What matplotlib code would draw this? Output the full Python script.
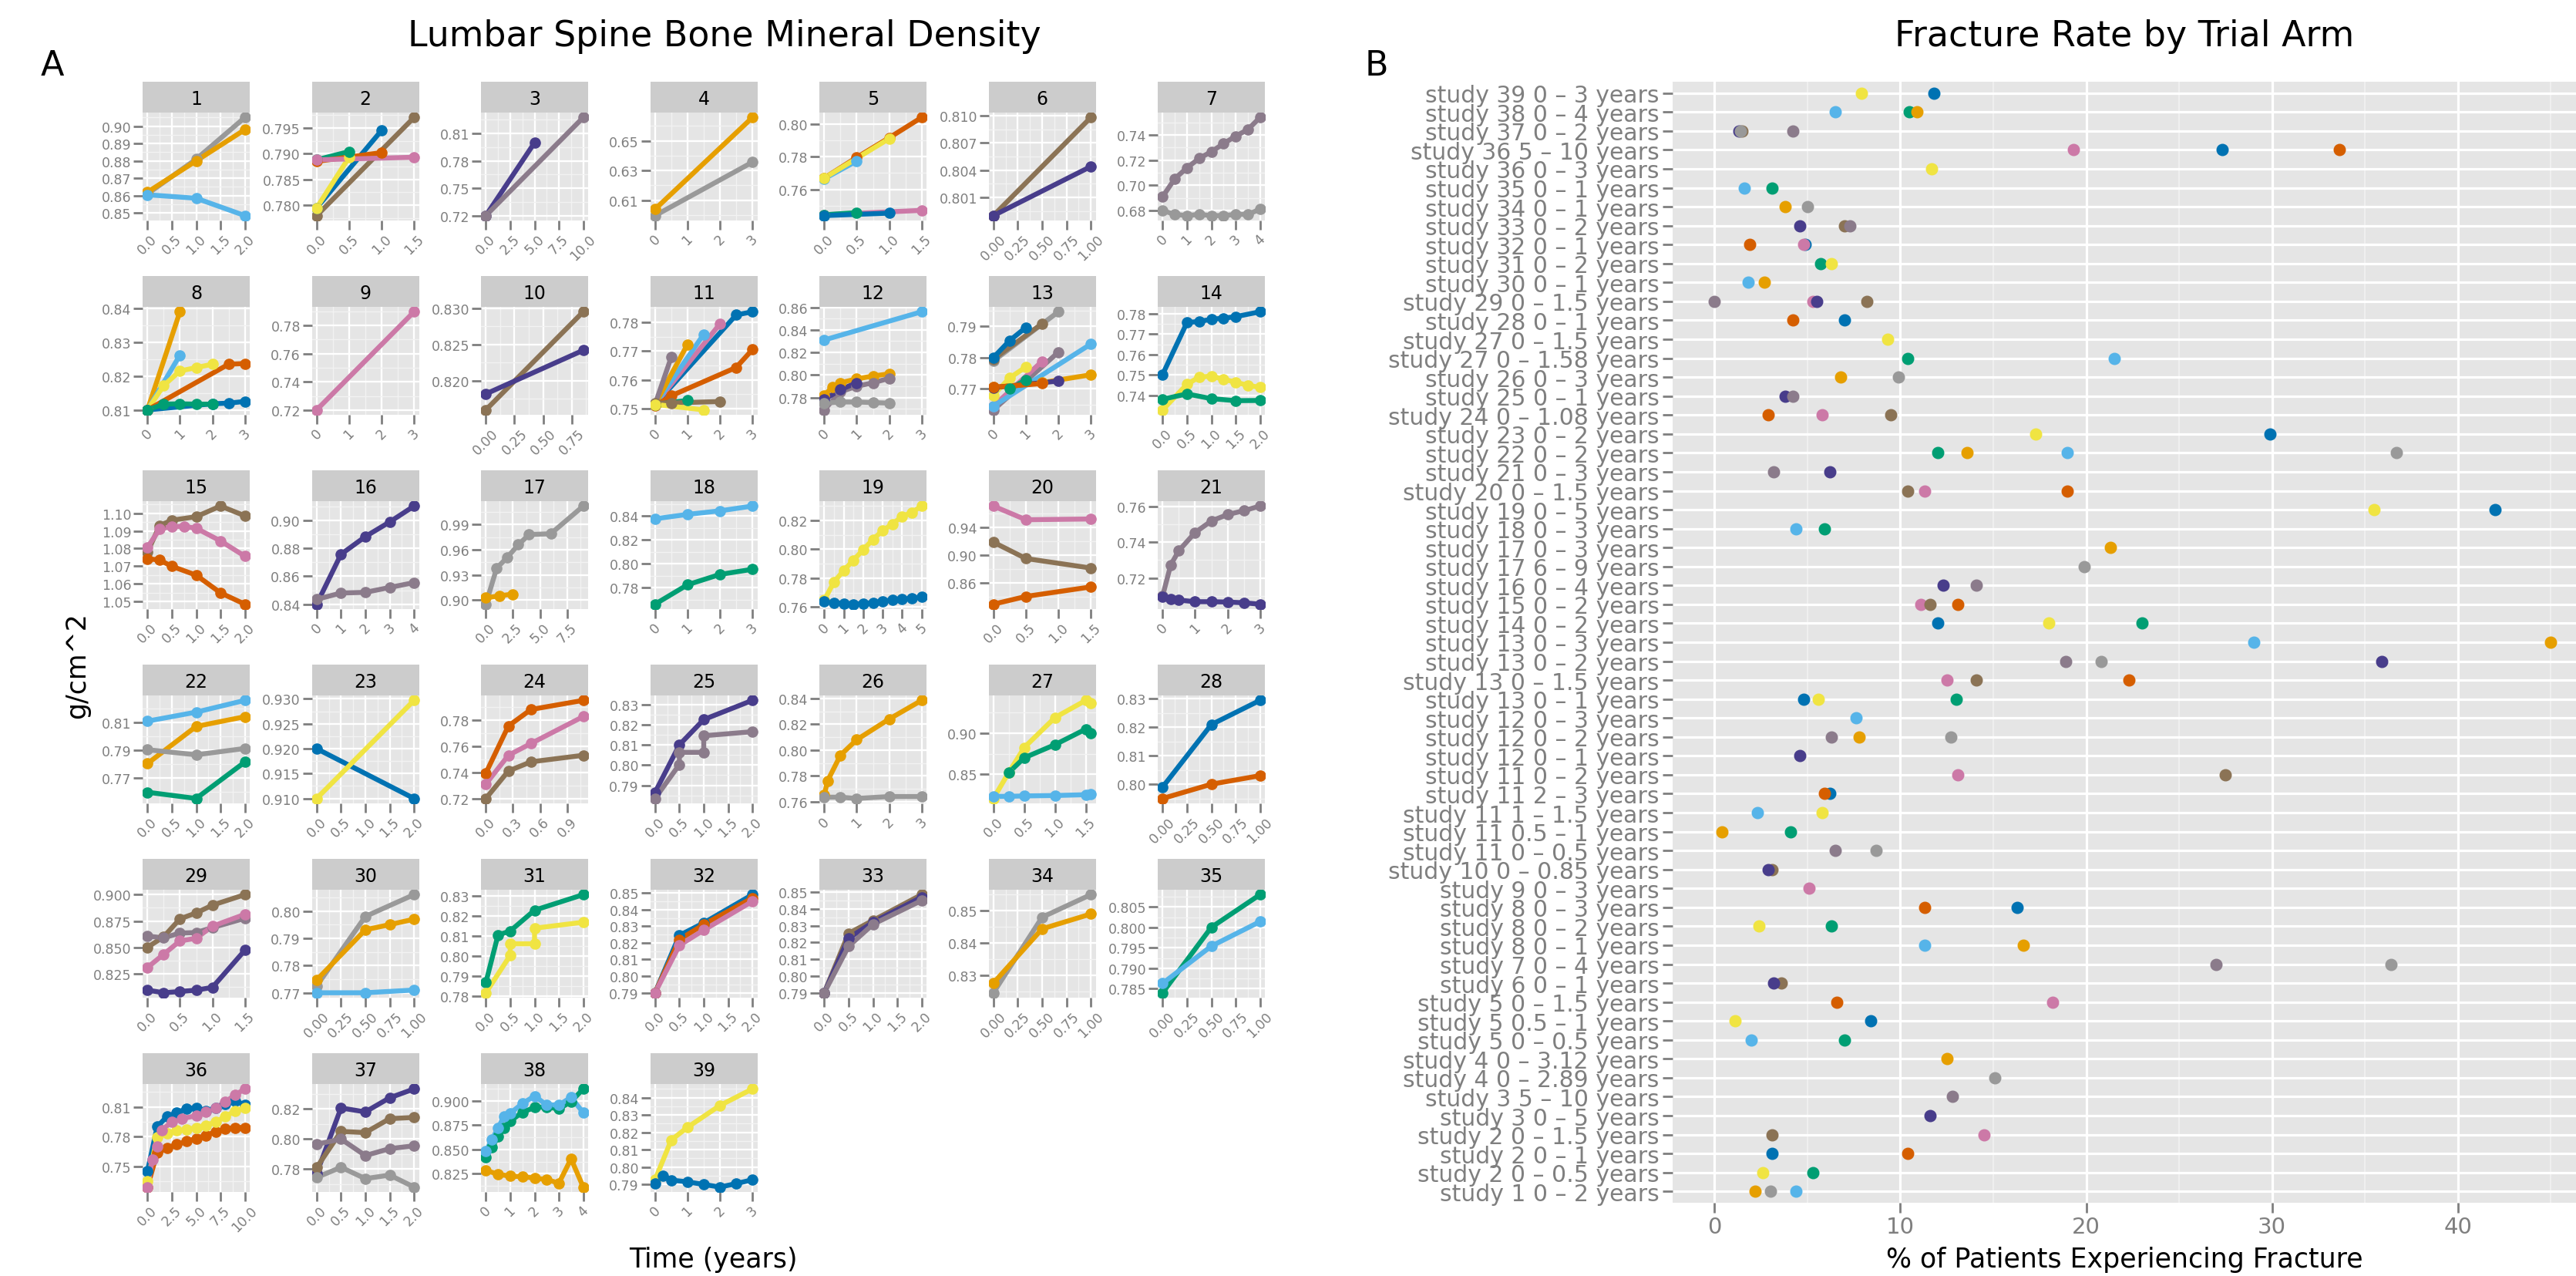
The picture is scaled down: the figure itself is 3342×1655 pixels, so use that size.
import numpy as np
import matplotlib.pyplot as plt

plt.rcParams['font.family'] = 'DejaVu Sans'

W, H = 3342, 1656

pal = {'orange': '#E69F00', 'sky': '#56B4E9', 'green': '#009E73', 'yellow': '#F0E442',
       'blue': '#0072B2', 'verm': '#D55E00', 'pink': '#CC79A7', 'grey': '#999999',
       'brown': '#8B7355', 'purple': '#483D8B', 'mauve': '#8B7B8B'}

# ---- panel A: BMD over time, one list per study: (arm colour, years, g/cm^2)
s01 = [('grey', [0, 1, 2], [0.861, 0.881, 0.905]),
       ('orange', [0, 1, 2], [0.862, 0.880, 0.898]),
       ('sky', [0, 1, 2], [0.8605, 0.8585, 0.8485])]
s02 = [('brown', [0, 1.5], [0.778, 0.797]),
       ('blue', [0, 1], [0.7795, 0.7945]),
       ('yellow', [0, 0.5], [0.7795, 0.7893]),
       ('green', [0, 0.5], [0.7888, 0.7904]),
       ('verm', [0, 1], [0.7885, 0.7902]),
       ('pink', [0, 1.5], [0.7888, 0.7893])]
s03 = [('purple', [0, 5], [0.720, 0.7998]),
       ('mauve', [0, 10], [0.720, 0.8274])]
s04 = [('grey', [0, 3], [0.5996, 0.6356]),
       ('orange', [0, 3], [0.6039, 0.6657])]
s05 = [('verm', [0, 0.5, 1, 1.5], [0.7669, 0.7795, 0.7915, 0.8039]),
       ('sky', [0, 0.5], [0.7665, 0.7773]),
       ('yellow', [0, 1], [0.7669, 0.791]),
       ('pink', [0, 1.5], [0.7445, 0.7472]),
       ('green', [0, 0.5], [0.7445, 0.7458]),
       ('blue', [0, 1], [0.744, 0.7455])]
s06 = [('brown', [0, 1], [0.799, 0.8098]),
       ('purple', [0, 1], [0.799, 0.8044])]
s07 = [('mauve', [0, 0.5, 1, 1.5, 2, 2.5, 3, 3.5, 4],
        [0.691, 0.7053, 0.7139, 0.7214, 0.7267, 0.7331, 0.7391, 0.7443, 0.7539]),
       ('grey', [0, 0.5, 1, 1.5, 2, 2.5, 3, 3.5, 4],
        [0.680, 0.677, 0.676, 0.677, 0.676, 0.676, 0.677, 0.677, 0.681])]
s08 = [('orange', [0, 1], [0.810, 0.839]),
       ('sky', [0, 1], [0.810, 0.8262]),
       ('yellow', [0, 0.5, 1, 1.5, 2], [0.810, 0.8172, 0.8215, 0.8225, 0.8235]),
       ('verm', [0, 2.5, 3], [0.810, 0.8235, 0.8237]),
       ('blue', [0, 2, 2.5, 3], [0.810, 0.8118, 0.812, 0.8125]),
       ('green', [0, 0.5, 1, 1.5, 2], [0.810, 0.8117, 0.8118, 0.8117, 0.8117])]
s09 = [('pink', [0, 3], [0.7201, 0.7896])]
s10 = [('brown', [0, 0.85], [0.816, 0.8295]),
       ('purple', [0, 0.85], [0.8182, 0.8242])]
s11 = [('blue', [0, 2.5, 3], [0.7515, 0.7825, 0.7836]),
       ('pink', [0, 2], [0.7515, 0.7794]),
       ('sky', [0, 1.5], [0.7515, 0.7758]),
       ('orange', [0, 1], [0.7515, 0.7723]),
       ('mauve', [0, 0.5], [0.7515, 0.7679]),
       ('verm', [0, 0.5, 2.5, 3], [0.751, 0.7545, 0.7643, 0.7705]),
       ('green', [0, 1], [0.7515, 0.7529]),
       ('brown', [0, 0.5, 2], [0.752, 0.752, 0.7525]),
       ('yellow', [0, 1.5], [0.7515, 0.7496])]
s12 = [('sky', [0, 3], [0.831, 0.856]),
       ('orange', [0, 0.25, 0.5, 1, 1.5, 2], [0.782, 0.789, 0.793, 0.7965, 0.799, 0.801]),
       ('mauve', [0, 0.5, 1, 1.5, 2], [0.769, 0.785, 0.790, 0.793, 0.797]),
       ('purple', [0, 0.5, 1], [0.778, 0.787, 0.793]),
       ('grey', [0, 0.5, 1, 1.5, 2], [0.775, 0.776, 0.776, 0.7755, 0.775])]
s13 = [('grey', [0, 2], [0.7789, 0.7946]),
       ('brown', [0, 1.5], [0.7795, 0.7908]),
       ('blue', [0, 0.5, 1], [0.780, 0.7854, 0.7896]),
       ('mauve', [0, 2], [0.7633, 0.7817]),
       ('pink', [0, 1.5], [0.7645, 0.7788]),
       ('sky', [0, 3], [0.7645, 0.7843]),
       ('yellow', [0, 0.5, 1], [0.768, 0.7735, 0.777]),
       ('green', [0.5, 1], [0.770, 0.7729]),
       ('orange', [0, 1.5, 3], [0.7705, 0.772, 0.7745]),
       ('purple', [0, 2], [0.7704, 0.7725]),
       ('verm', [0, 1.5], [0.7705, 0.7717])]
s14 = [('blue', [0, 0.5, 0.75, 1, 1.25, 1.5, 2],
        [0.7503, 0.7756, 0.7762, 0.7772, 0.7778, 0.7785, 0.7809]),
       ('yellow', [0, 0.5, 0.75, 1, 1.25, 1.5, 1.75, 2],
        [0.733, 0.7455, 0.749, 0.7495, 0.748, 0.7465, 0.745, 0.744]),
       ('green', [0, 0.5, 1, 1.5, 2], [0.7382, 0.7408, 0.7385, 0.7375, 0.7376])]
s15 = [('brown', [0, 0.25, 0.5, 1, 1.5, 2], [1.078, 1.093, 1.096, 1.098, 1.104, 1.0985]),
       ('pink', [0, 0.25, 0.5, 0.75, 1, 1.5, 2],
        [1.0807, 1.091, 1.0925, 1.0925, 1.0915, 1.0843, 1.0757]),
       ('verm', [0, 0.25, 0.5, 1, 1.5, 2], [1.0743, 1.0735, 1.070, 1.065, 1.055, 1.0486])]
s16 = [('purple', [0, 1, 2, 3, 4], [0.840, 0.8758, 0.8885, 0.899, 0.9104]),
       ('mauve', [0, 1, 2, 3, 4], [0.8435, 0.848, 0.8485, 0.852, 0.8555])]
s17 = [('grey', [0, 1, 2, 3, 4, 6, 9], [0.895, 0.938, 0.951, 0.966, 0.978, 0.979, 1.012]),
       ('orange', [0, 1.25, 2.5], [0.9025, 0.905, 0.907])]
s18 = [('sky', [0, 1, 2, 3], [0.8378, 0.8415, 0.8445, 0.8485]),
       ('green', [0, 1, 2, 3], [0.7661, 0.7824, 0.7911, 0.7954])]
s19 = [('yellow', [0, 0.5, 1, 1.5, 2, 2.5, 3, 3.5, 4, 4.5, 5],
        [0.7648, 0.7773, 0.7853, 0.7924, 0.7996, 0.8067, 0.8129, 0.8174, 0.8227, 0.8254, 0.8298]),
       ('blue', [0, 0.5, 1, 1.5, 2, 2.5, 3, 3.5, 4, 4.5, 5],
        [0.764, 0.763, 0.7625, 0.762, 0.7625, 0.763, 0.764, 0.765, 0.7655, 0.766, 0.767])]
s20 = [('pink', [0, 0.5, 1.5], [0.971, 0.9512, 0.9523]),
       ('brown', [0, 0.5, 1.5], [0.9187, 0.8951, 0.8813]),
       ('verm', [0, 0.5, 1.5], [0.829, 0.8402, 0.854])]
s21 = [('mauve', [0, 0.25, 0.5, 1, 1.5, 2, 2.5, 3],
        [0.7098, 0.7273, 0.7353, 0.7455, 0.752, 0.7556, 0.7578, 0.7604]),
       ('purple', [0, 0.25, 0.5, 1, 1.5, 2, 2.5, 3],
        [0.7095, 0.7082, 0.7075, 0.7066, 0.7066, 0.7064, 0.706, 0.7052])]
s22 = [('sky', [0, 1, 2], [0.811, 0.8175, 0.826]),
       ('orange', [0, 1, 2], [0.7804, 0.8072, 0.8142]),
       ('grey', [0, 1, 2], [0.7904, 0.7867, 0.7913]),
       ('green', [0, 1, 2], [0.7597, 0.7552, 0.7815])]
s23 = [('blue', [0, 2], [0.920, 0.910]),
       ('yellow', [0, 2], [0.910, 0.9297])]
s24 = [('verm', [0, 0.25, 0.5, 1.08], [0.7394, 0.7754, 0.788, 0.795]),
       ('pink', [0, 0.25, 0.5, 1.08], [0.731, 0.753, 0.762, 0.7826]),
       ('brown', [0, 0.25, 0.5, 1.08], [0.720, 0.741, 0.748, 0.753])]
s25 = [('purple', [0, 0.5, 1, 2], [0.7865, 0.810, 0.8225, 0.832]),
       ('mauve', [0, 0.5, 0.5, 1, 1, 2], [0.7835, 0.8003, 0.8063, 0.8063, 0.8145, 0.8165])]
s26 = [('orange', [0, 0.1, 0.5, 1, 2, 3], [0.765, 0.776, 0.796, 0.808, 0.824, 0.8385]),
       ('grey', [0, 0.5, 1, 2, 3], [0.7635, 0.7635, 0.7625, 0.764, 0.764])]
s27 = [('yellow', [0, 0.25, 0.5, 1, 1.5, 1.58], [0.8204, 0.8522, 0.8825, 0.9191, 0.940, 0.937]),
       ('green', [0.25, 0.5, 1, 1.5, 1.58], [0.852, 0.870, 0.886, 0.905, 0.900]),
       ('sky', [0, 0.25, 0.5, 1, 1.5, 1.58], [0.8229, 0.823, 0.8235, 0.824, 0.825, 0.826])]
s28 = [('blue', [0, 0.5, 1], [0.799, 0.8209, 0.8294]),
       ('verm', [0, 0.5, 1], [0.795, 0.800, 0.803])]
s29 = [('brown', [0, 0.25, 0.5, 0.75, 1, 1.5], [0.850, 0.860, 0.877, 0.8826, 0.890, 0.900]),
       ('mauve', [0, 0.25, 0.5, 0.75, 1, 1.5], [0.8606, 0.859, 0.8635, 0.864, 0.8687, 0.8775]),
       ('pink', [0, 0.25, 0.5, 0.75, 1, 1.5], [0.8308, 0.8434, 0.856, 0.8586, 0.870, 0.8813]),
       ('purple', [0, 0.25, 0.5, 0.75, 1, 1.5], [0.8093, 0.8068, 0.808, 0.8093, 0.8119, 0.8472])]
s30 = [('grey', [0, 0.5, 1], [0.7725, 0.798, 0.806]),
       ('orange', [0, 0.5, 0.75, 1], [0.7747, 0.7931, 0.795, 0.797]),
       ('sky', [0, 0.5, 1], [0.770, 0.770, 0.771])]
s31 = [('green', [0, 0.25, 0.5, 1, 2], [0.7868, 0.8106, 0.8126, 0.823, 0.8308]),
       ('yellow', [0, 0.5, 0.5, 1, 1, 2], [0.7817, 0.8004, 0.8062, 0.8062, 0.814, 0.817])]
s32 = [('blue', [0, 0.5, 1, 2], [0.790, 0.8245, 0.832, 0.849]),
       ('verm', [0, 0.5, 1, 2], [0.790, 0.822, 0.831, 0.847]),
       ('pink', [0, 0.5, 1, 2], [0.790, 0.8185, 0.8277, 0.845])]
s33 = [('brown', [0, 0.5, 1, 2], [0.790, 0.8254, 0.8331, 0.8485]),
       ('purple', [0, 0.5, 1, 2], [0.790, 0.8225, 0.832, 0.847]),
       ('mauve', [0, 0.5, 1, 2], [0.790, 0.8177, 0.8308, 0.845])]
s34 = [('grey', [0, 0.5, 1], [0.8246, 0.848, 0.855]),
       ('orange', [0, 0.5, 1], [0.8276, 0.8444, 0.849])]
s35 = [('green', [0, 0.5, 1], [0.784, 0.800, 0.808]),
       ('sky', [0, 0.5, 1], [0.7863, 0.7954, 0.8014])]
s36 = [('verm', [0, 1, 2, 3, 4, 5, 6, 7, 8, 9, 10],
        [0.729, 0.7635, 0.768, 0.772, 0.775, 0.778, 0.781, 0.785, 0.7875, 0.789, 0.789]),
       ('blue', [0, 1, 2, 3, 4, 5, 6, 7, 8, 9, 10],
        [0.745, 0.790, 0.800, 0.804, 0.808, 0.809, 0.806, 0.809, 0.813, 0.816, 0.812]),
       ('yellow', [0, 1, 2, 3, 4, 5, 6, 7, 8, 9, 10],
        [0.735, 0.779, 0.7835, 0.786, 0.787, 0.789, 0.791, 0.795, 0.800, 0.806, 0.809]),
       ('pink', [0, 0.5, 1, 1.5, 2.5, 3.5, 5, 6, 7, 8, 9, 10],
        [0.729, 0.757, 0.770, 0.7865, 0.795, 0.798, 0.801, 0.805, 0.809, 0.815, 0.822, 0.828])]
s37 = [('purple', [0, 0.5, 1, 1.5, 2], [0.777, 0.8207, 0.8181, 0.8275, 0.8334]),
       ('brown', [0, 0.5, 1, 1.5, 2], [0.781, 0.8051, 0.8043, 0.8136, 0.8144]),
       ('mauve', [0, 0.5, 1, 1.5, 2], [0.7965, 0.800, 0.789, 0.7936, 0.7955]),
       ('grey', [0, 0.5, 1, 1.5, 2], [0.7744, 0.7812, 0.7736, 0.776, 0.768])]
s38 = [('green', [0, 0.25, 0.5, 0.75, 1, 1.5, 2, 2.5, 3, 3.5, 4],
        [0.842, 0.852, 0.863, 0.872, 0.879, 0.888, 0.893, 0.8935, 0.8915, 0.899, 0.912]),
       ('sky', [0, 0.25, 0.5, 0.75, 1, 1.5, 2, 2.5, 3, 3.5, 4],
        [0.848, 0.860, 0.872, 0.884, 0.887, 0.897, 0.9047, 0.8955, 0.8955, 0.9034, 0.8876]),
       ('orange', [0, 0.5, 1, 1.5, 2, 2.5, 3, 3.5, 4],
        [0.8284, 0.8245, 0.8225, 0.822, 0.8205, 0.819, 0.8153, 0.8403, 0.8113])]
s39 = [('yellow', [0, 0.5, 1, 2, 3], [0.7927, 0.8156, 0.8229, 0.8355, 0.845]),
       ('blue', [0, 0.25, 0.5, 1, 1.5, 2, 2.5, 3],
        [0.7904, 0.795, 0.7925, 0.7915, 0.790, 0.7885, 0.7905, 0.7927])]

studies = [s01, s02, s03, s04, s05, s06, s07, s08, s09, s10, s11, s12, s13,
           s14, s15, s16, s17, s18, s19, s20, s21, s22, s23, s24, s25, s26,
           s27, s28, s29, s30, s31, s32, s33, s34, s35, s36, s37, s38, s39]

y_break_fix = {35: [0.785, 0.790, 0.795, 0.800, 0.805], 36: [0.75, 0.78, 0.81]}
x_break_fix = {10: [0, 0.25, 0.5, 0.75]}

# ---- panel B: fracture rate (%) per arm, top row first
fx_labels = ['study 39 0 – 3 years', 'study 38 0 – 4 years', 'study 37 0 – 2 years',
             'study 36 5 – 10 years', 'study 36 0 – 3 years', 'study 35 0 – 1 years',
             'study 34 0 – 1 years', 'study 33 0 – 2 years', 'study 32 0 – 1 years',
             'study 31 0 – 2 years', 'study 30 0 – 1 years', 'study 29 0 – 1.5 years',
             'study 28 0 – 1 years', 'study 27 0 – 1.5 years', 'study 27 0 – 1.58 years',
             'study 26 0 – 3 years', 'study 25 0 – 1 years', 'study 24 0 – 1.08 years',
             'study 23 0 – 2 years', 'study 22 0 – 2 years', 'study 21 0 – 3 years',
             'study 20 0 – 1.5 years', 'study 19 0 – 5 years', 'study 18 0 – 3 years',
             'study 17 0 – 3 years', 'study 17 6 – 9 years', 'study 16 0 – 4 years',
             'study 15 0 – 2 years', 'study 14 0 – 2 years', 'study 13 0 – 3 years',
             'study 13 0 – 2 years', 'study 13 0 – 1.5 years', 'study 13 0 – 1 years',
             'study 12 0 – 3 years', 'study 12 0 – 2 years', 'study 12 0 – 1 years',
             'study 11 0 – 2 years', 'study 11 2 – 3 years', 'study 11 1 – 1.5 years',
             'study 11 0.5 – 1 years', 'study 11 0 – 0.5 years', 'study 10 0 – 0.85 years',
             'study 9 0 – 3 years', 'study 8 0 – 3 years', 'study 8 0 – 2 years',
             'study 8 0 – 1 years', 'study 7 0 – 4 years', 'study 6 0 – 1 years',
             'study 5 0 – 1.5 years', 'study 5 0.5 – 1 years', 'study 5 0 – 0.5 years',
             'study 4 0 – 3.12 years', 'study 4 0 – 2.89 years', 'study 3 5 – 10 years',
             'study 3 0 – 5 years', 'study 2 0 – 1.5 years', 'study 2 0 – 1 years',
             'study 2 0 – 0.5 years', 'study 1 0 – 2 years']
fx_arms = [[('yellow', 7.9), ('blue', 11.8)],
           [('sky', 6.5), ('green', 10.5), ('orange', 10.9)],
           [('purple', 1.3), ('brown', 1.5), ('grey', 1.4), ('mauve', 4.2)],
           [('pink', 19.3), ('blue', 27.3), ('verm', 33.6)],
           [('yellow', 11.7)],
           [('sky', 1.6), ('green', 3.1)],
           [('orange', 3.8), ('grey', 5.0)],
           [('purple', 4.6), ('brown', 7.0), ('mauve', 7.3)],
           [('verm', 1.9), ('blue', 4.9), ('pink', 4.8)],
           [('green', 5.7), ('yellow', 6.3)],
           [('sky', 1.8), ('orange', 2.7)],
           [('mauve', 0.0), ('pink', 5.3), ('purple', 5.5), ('brown', 8.2)],
           [('verm', 4.2), ('blue', 7.0)],
           [('yellow', 9.3)],
           [('green', 10.4), ('sky', 21.5)],
           [('orange', 6.8), ('grey', 9.9)],
           [('purple', 3.8), ('mauve', 4.2)],
           [('verm', 2.9), ('pink', 5.8), ('brown', 9.5)],
           [('yellow', 17.3), ('blue', 29.9)],
           [('green', 12.0), ('orange', 13.6), ('sky', 19.0), ('grey', 36.7)],
           [('mauve', 3.2), ('purple', 6.2)],
           [('brown', 10.4), ('pink', 11.3), ('verm', 19.0)],
           [('yellow', 35.5), ('blue', 42.0)],
           [('sky', 4.4), ('green', 5.9)],
           [('orange', 21.3)],
           [('grey', 19.9)],
           [('purple', 12.3), ('mauve', 14.1)],
           [('pink', 11.1), ('brown', 11.6), ('verm', 13.1)],
           [('blue', 12.0), ('yellow', 18.0), ('green', 23.0)],
           [('sky', 29.0), ('orange', 45.0)],
           [('mauve', 18.9), ('grey', 20.8), ('purple', 35.9)],
           [('pink', 12.5), ('brown', 14.1), ('verm', 22.3)],
           [('blue', 4.8), ('yellow', 5.6), ('green', 13.0)],
           [('sky', 7.6)],
           [('mauve', 6.3), ('orange', 7.8), ('grey', 12.7)],
           [('purple', 4.6)],
           [('pink', 13.1), ('brown', 27.5)],
           [('blue', 6.2), ('verm', 5.9)],
           [('sky', 2.3), ('yellow', 5.8)],
           [('orange', 0.4), ('green', 4.1)],
           [('mauve', 6.5), ('grey', 8.7)],
           [('brown', 3.1), ('purple', 2.9)],
           [('pink', 5.1)],
           [('verm', 11.3), ('blue', 16.3)],
           [('yellow', 2.4), ('green', 6.3)],
           [('sky', 11.3), ('orange', 16.6)],
           [('mauve', 27.0), ('grey', 36.4)],
           [('brown', 3.6), ('purple', 3.2)],
           [('verm', 6.6), ('pink', 18.2)],
           [('yellow', 1.1), ('blue', 8.4)],
           [('sky', 2.0), ('green', 7.0)],
           [('orange', 12.5)],
           [('grey', 15.1)],
           [('mauve', 12.8)],
           [('purple', 11.6)],
           [('brown', 3.1), ('pink', 14.5)],
           [('blue', 3.1), ('verm', 10.4)],
           [('yellow', 2.6), ('green', 5.3)],
           [('orange', 2.2), ('grey', 3.0), ('sky', 4.4)]]
fx_ticks = [0, 10, 20, 30, 40]


# ggplot style breaks (Talbot/Wilkinson "extended")
def extended(dmin, dmax, m=5, Q=(1, 5, 2, 2.5, 4, 3), w=(0.25, 0.2, 0.5, 0.05)):
    if dmax - dmin < 1e-12:
        return [dmin]
    n = len(Q)
    eps = 1e-12
    best = None
    best_score = -2
    j = 1
    while j < 50:
        stop = False
        for qi, q in enumerate(Q):
            sm = 1 - qi / (n - 1) - j + 1
            if w[0] * sm + w[1] + w[2] + w[3] < best_score:
                stop = True
                break
            k = 2
            while k < 50:
                dm = 2 - (k - 1) / (m - 1) if k >= m else 1
                if w[0] * sm + w[1] + w[2] * dm + w[3] < best_score:
                    break
                delta = (dmax - dmin) / (k + 1) / j / q
                z = int(np.ceil(np.log10(delta)))
                while z < 50:
                    step = j * q * 10.0 ** z
                    span = step * (k - 1)
                    rng = dmax - dmin
                    if span > rng:
                        half = (span - rng) / 2
                        cm = 1 - 0.5 * (2 * half ** 2) / ((0.1 * rng) ** 2)
                    else:
                        cm = 1
                    if w[0] * sm + w[1] * cm + w[2] * dm + w[3] < best_score:
                        break
                    min_start = int(np.floor(dmax / step) * j - (k - 1) * j)
                    max_start = int(np.ceil(dmin / step) * j)
                    for start in range(min_start, max_start + 1):
                        lmin = start * (step / j)
                        lmax = lmin + step * (k - 1)
                        md = lmin % step
                        v = 1 if ((md < eps or step - md < eps) and lmin <= 0 <= lmax) else 0
                        s = 1 - qi / (n - 1) - j + v
                        c = 1 - 0.5 * ((dmax - lmax) ** 2 + (dmin - lmin) ** 2) / ((0.1 * rng) ** 2)
                        r = (k - 1) / (lmax - lmin)
                        rt = (m - 1) / (max(lmax, dmax) - min(dmin, lmin))
                        g = 2 - max(r / rt, rt / r)
                        score = w[0] * s + w[1] * c + w[2] * g + w[3]
                        if score > best_score:
                            best_score = score
                            best = (lmin, lmax, step)
                    z += 1
                k += 1
        if stop:
            break
        j += 1
    lmin, lmax, step = best
    return list(np.round(np.arange(lmin, lmax + step / 2, step), 10))


def tick_text(vals):
    for d in range(0, 6):
        if all(abs(round(v, d) - v) < 1e-9 for v in vals):
            break
    return [f'{v:.{d}f}' for v in vals]


def box(x0, y0, w, h):
    return [x0 / W, 1 - (y0 + h) / H, w / W, h / H]


def setup_scale(ax, lo, hi, axis, fixed=None):
    span = hi - lo if hi > lo else 1.0
    a, b = lo - 0.05 * span, hi + 0.05 * span
    # breaks are taken on the expanded range, as old ggplot2 did
    brk = fixed if fixed is not None else extended(a, b)
    brk = [v for v in brk if a - 1e-9 <= v <= b + 1e-9]
    step = brk[1] - brk[0] if len(brk) > 1 else span
    minor = [v + step / 2 for v in [brk[0] - step] + brk]
    minor = [v for v in minor if a <= v <= b]
    if axis == 'x':
        ax.set_xlim(a, b)
        ax.set_xticks(brk)
        ax.set_xticks(minor, minor=True)
        ax.set_xticklabels(tick_text(brk), rotation=45, ha='center', va='top')
    else:
        ax.set_ylim(a, b)
        ax.set_yticks(brk)
        ax.set_yticks(minor, minor=True)
        ax.set_yticklabels(tick_text(brk))


fig = plt.figure(figsize=(W / 100, H / 100), dpi=100)

for i, series in enumerate(studies):
    r, c = divmod(i, 7)
    x0 = 185 + 219.5 * c
    y0 = 107 + 252 * r

    st = fig.add_axes(box(x0, y0, 139, 40))
    st.set_facecolor('#CCCCCC')
    st.set_xticks([])
    st.set_yticks([])
    for sp in st.spines.values():
        sp.set_visible(False)
    st.text(0.5, 0.46, str(i + 1), ha='center', va='center', fontsize=17, transform=st.transAxes)

    ax = fig.add_axes(box(x0, y0 + 40, 139, 140))
    ax.set_facecolor('#E5E5E5')
    for col, t, v in series:
        ax.plot(t, v, color=pal[col], lw=4.6, zorder=3, solid_capstyle='round')
    for col, t, v in series:
        ax.plot(t, v, 'o', color=pal[col], ms=9.5, zorder=4)
    tt = np.concatenate([np.asarray(s[1], float) for s in series])
    vv = np.concatenate([np.asarray(s[2], float) for s in series])
    setup_scale(ax, tt.min(), tt.max(), 'x', x_break_fix.get(i + 1))
    setup_scale(ax, vv.min(), vv.max(), 'y', y_break_fix.get(i + 1))
    ax.grid(which='major', color='white', lw=1.7)
    ax.grid(which='minor', color='#F2F2F2', lw=1.0)
    ax.set_axisbelow(True)
    ax.tick_params(which='major', length=8.5, width=2, color='#7F7F7F',
                   labelcolor='#7F7F7F', labelsize=12.5, pad=2)
    ax.tick_params(which='minor', length=0)
    for sp in ax.spines.values():
        sp.set_visible(False)

# panel B
axb = fig.add_axes(box(2170, 107, W - 2170, 1454))
axb.set_facecolor('#E5E5E5')
n = len(fx_labels)
for k, arms in enumerate(fx_arms):
    for col, val in arms:
        axb.plot(val, n - k, 'o', color=pal[col], ms=10.5, zorder=3)
axb.set_ylim(0.4, n + 0.6)
axb.set_yticks(range(n, 0, -1))
axb.set_yticklabels(fx_labels)
axb.set_xlim(-2.25, 46.35)
axb.set_xticks(fx_ticks)
axb.set_xticks([5, 15, 25, 35, 45], minor=True)
axb.grid(which='major', color='white', lw=2.3)
axb.grid(which='minor', axis='x', color='#F2F2F2', lw=1.2)
axb.set_axisbelow(True)
axb.tick_params(which='major', length=9.5, width=2, color='#7F7F7F', labelcolor='#7F7F7F', pad=3)
axb.tick_params(axis='y', labelsize=21.5)
axb.tick_params(axis='x', labelsize=21)
axb.tick_params(which='minor', length=0)
for sp in axb.spines.values():
    sp.set_visible(False)

# titles and labels
fig.text(940 / W, 1 - 47 / H, 'Lumbar Spine Bone Mineral Density', ha='center', va='center', fontsize=33)
fig.text(2756 / W, 1 - 47 / H, 'Fracture Rate by Trial Arm', ha='center', va='center', fontsize=33)
fig.text(68 / W, 1 - 85 / H, 'A', ha='center', va='center', fontsize=32)
fig.text(1786 / W, 1 - 85 / H, 'B', ha='center', va='center', fontsize=32)
fig.text(100 / W, 1 - 863 / H, 'g/cm^2', ha='center', va='center', rotation=90, fontsize=25)
fig.text(925 / W, 1 - 1634 / H, 'Time (years)', ha='center', va='center', fontsize=25)
fig.text(2756 / W, 1 - 1634 / H, '% of Patients Experiencing Fracture', ha='center', va='center', fontsize=25)

fig.savefig('out.png', dpi=100)
